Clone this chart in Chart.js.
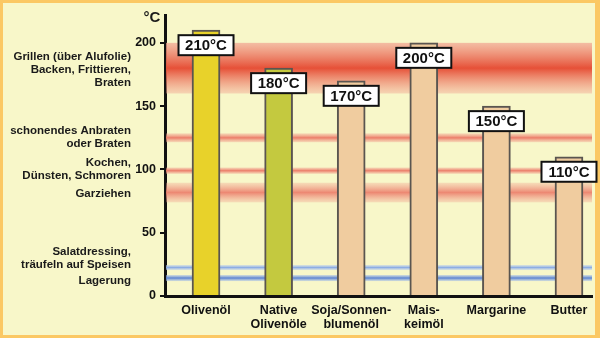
<!DOCTYPE html>
<html><head><meta charset="utf-8">
<script src="https://cdn.jsdelivr.net/npm/chart.js@4"></script>
<style>html,body{margin:0;padding:0;background:#f8f7c9;}canvas{display:block;}</style>
</head><body>
<canvas id="c" width="600" height="338"></canvas>
<script>
// ---- data ----
const categories = ['Olivenöl', ['Native','Olivenöle'], ['Soja/Sonnen-','blumenöl'], ['Mais-','keimöl'], 'Margarine', 'Butter'];
const smokePoints = [210, 180, 170, 200, 150, 110];
const valueLabels = ['210°C', '180°C', '170°C', '200°C', '150°C', '110°C'];
const barColors = ['#e8d22a', '#c4c93f', '#f0cc9f', '#f0cc9f', '#f0cc9f', '#f0cc9f'];
const yTicks = [0, 50, 100, 150, 200];
const redBandFrom = [160, 121.5, 96.5, 74];
const redBandTo   = [200, 128.5, 101.5, 89.5];
const blueBandFrom = [20.5, 11.8];
const blueBandTo   = [24.5, 16.6];
const zoneLabels = [
  ['Grillen (über Alufolie)', 'Backen, Frittieren,', 'Braten'],
  ['schonendes Anbraten', 'oder Braten'],
  ['Kochen,', 'Dünsten, Schmoren'],
  ['Garziehen'],
  ['Salatdressing,', 'träufeln auf Speisen'],
  ['Lagerung']
];
const zoneAnchors = [179, 125.6, 100, 80.6, 29.6, 11.8];
const unitLabel = '°C';

const FONT = '"Liberation Sans", Arial, Helvetica, sans-serif';

const bgPlugin = {
  id: 'bg',
  beforeDraw(chart) {
    const ctx = chart.ctx, W = chart.width, H = chart.height;
    ctx.save();
    ctx.fillStyle = '#f8f7c9';
    ctx.fillRect(0, 0, W, H);
    ctx.fillStyle = '#fbc864';
    ctx.fillRect(0, 0, W, 3);
    ctx.fillRect(0, H - 3, W, 3);
    ctx.fillRect(0, 0, 3, H);
    ctx.fillRect(W - 5, 0, 5, H);
    ctx.restore();
  }
};

const bandPlugin = {
  id: 'bands',
  beforeDatasetsDraw(chart) {
    const ctx = chart.ctx, ca = chart.chartArea, y = chart.scales.y;
    const left = ca.left + 1, right = ca.right;
    ctx.save();
    function band(from, to, edge, mid, edge2) {
      const top = y.getPixelForValue(to), bot = y.getPixelForValue(from);
      const g = ctx.createLinearGradient(0, top, 0, bot);
      g.addColorStop(0, edge);
      g.addColorStop(0.5, mid);
      g.addColorStop(1, edge2 || edge);
      ctx.fillStyle = g;
      ctx.fillRect(left, top, right - left, bot - top);
    }
    redBandFrom.forEach((f, i) => {
      if (i === 0) band(f, redBandTo[i], 'rgba(242,170,150,0.75)', 'rgba(230,80,55,1)', 'rgba(242,170,150,0.45)');
      else if (i === 3) band(f, redBandTo[i], 'rgba(242,170,150,0.35)', 'rgba(236,130,110,0.95)');
      else band(f, redBandTo[i], 'rgba(242,170,150,0.4)', 'rgba(236,125,105,1)');
    });
    band(blueBandFrom[0], blueBandTo[0], 'rgba(190,210,240,0.5)', 'rgba(140,172,228,1)');
    band(blueBandFrom[1], blueBandTo[1], 'rgba(170,195,235,0.5)', 'rgba(90,130,208,1)');
    ctx.restore();
  }
};

const textPlugin = {
  id: 'texts',
  afterDraw(chart) {
    const ctx = chart.ctx, y = chart.scales.y;
    ctx.save();
    // zone labels
    ctx.font = 'bold 11.5px ' + FONT;
    ctx.fillStyle = '#1a1a1a';
    ctx.textAlign = 'right';
    ctx.textBaseline = 'middle';
    const lh = 13;
    zoneLabels.forEach((lines, i) => {
      const cy = y.getPixelForValue(zoneAnchors[i]);
      const start = cy - (lines.length - 1) * lh / 2;
      lines.forEach((t, j) => ctx.fillText(t, 131, start + j * lh));
    });
    // unit
    ctx.font = 'bold 15px ' + FONT;
    ctx.textAlign = 'center';
    ctx.fillText(unitLabel, 152, 18);
    // value boxes
    const meta = chart.getDatasetMeta(0);
    meta.data.forEach((el, i) => {
      const cx = el.x, cy = el.y + 15;
      const w = 55, h = 20;
      ctx.fillStyle = '#ffffff';
      ctx.fillRect(cx - w / 2, cy - h / 2, w, h);
      ctx.strokeStyle = '#111';
      ctx.lineWidth = 2;
      ctx.strokeRect(cx - w / 2, cy - h / 2, w, h);
      ctx.fillStyle = '#111';
      ctx.font = 'bold 15px ' + FONT;
      ctx.textAlign = 'center';
      ctx.textBaseline = 'middle';
      ctx.fillText(valueLabels[i], cx, cy + 1);
    });
    ctx.restore();
  }
};

new Chart(document.getElementById('c'), {
  type: 'bar',
  data: {
    datasets: [{
      data: smokePoints.map((v, i) => ({ x: i, y: v })),
      backgroundColor: barColors,
      borderColor: '#5a5550',
      borderWidth: 2,
      borderSkipped: 'bottom',
      barThickness: 28
    }]
  },
  options: {
    responsive: false,
    devicePixelRatio: 1,
    animation: false,
    layout: { padding: { top: 15, right: 8, left: 0, bottom: 0 } },
    plugins: { legend: { display: false }, tooltip: { enabled: false } },
    scales: {
      x: {
        type: 'linear',
        offset: false,
        min: -0.565,
        max: 5.317,
        afterFit(s) { s.height = 42; },
        afterBuildTicks(s) { s.ticks = categories.map((_, i) => ({ value: i })); },
        ticks: {
          autoSkip: false, maxRotation: 0, padding: 8,
          color: '#111',
          font: { family: FONT, weight: 'bold', size: 12.5, lineHeight: 1.12 },
          callback: (v) => categories[v]
        },
        grid: { display: false, drawTicks: false },
        border: { display: true, color: '#111', width: 3 }
      },
      y: {
        min: 0,
        max: 222,
        afterFit(s) { s.width = 165; },
        afterBuildTicks(s) { s.ticks = yTicks.map(v => ({ value: v })); },
        ticks: {
          padding: 4,
          color: '#111',
          font: { family: FONT, weight: 'bold', size: 12.5 }
        },
        grid: { display: true, drawOnChartArea: false, drawTicks: true, tickLength: 5, color: '#111', lineWidth: 2 },
        border: { display: true, color: '#111', width: 3 }
      }
    }
  },
  plugins: [bgPlugin, bandPlugin, textPlugin]
});
</script>
</body></html>
